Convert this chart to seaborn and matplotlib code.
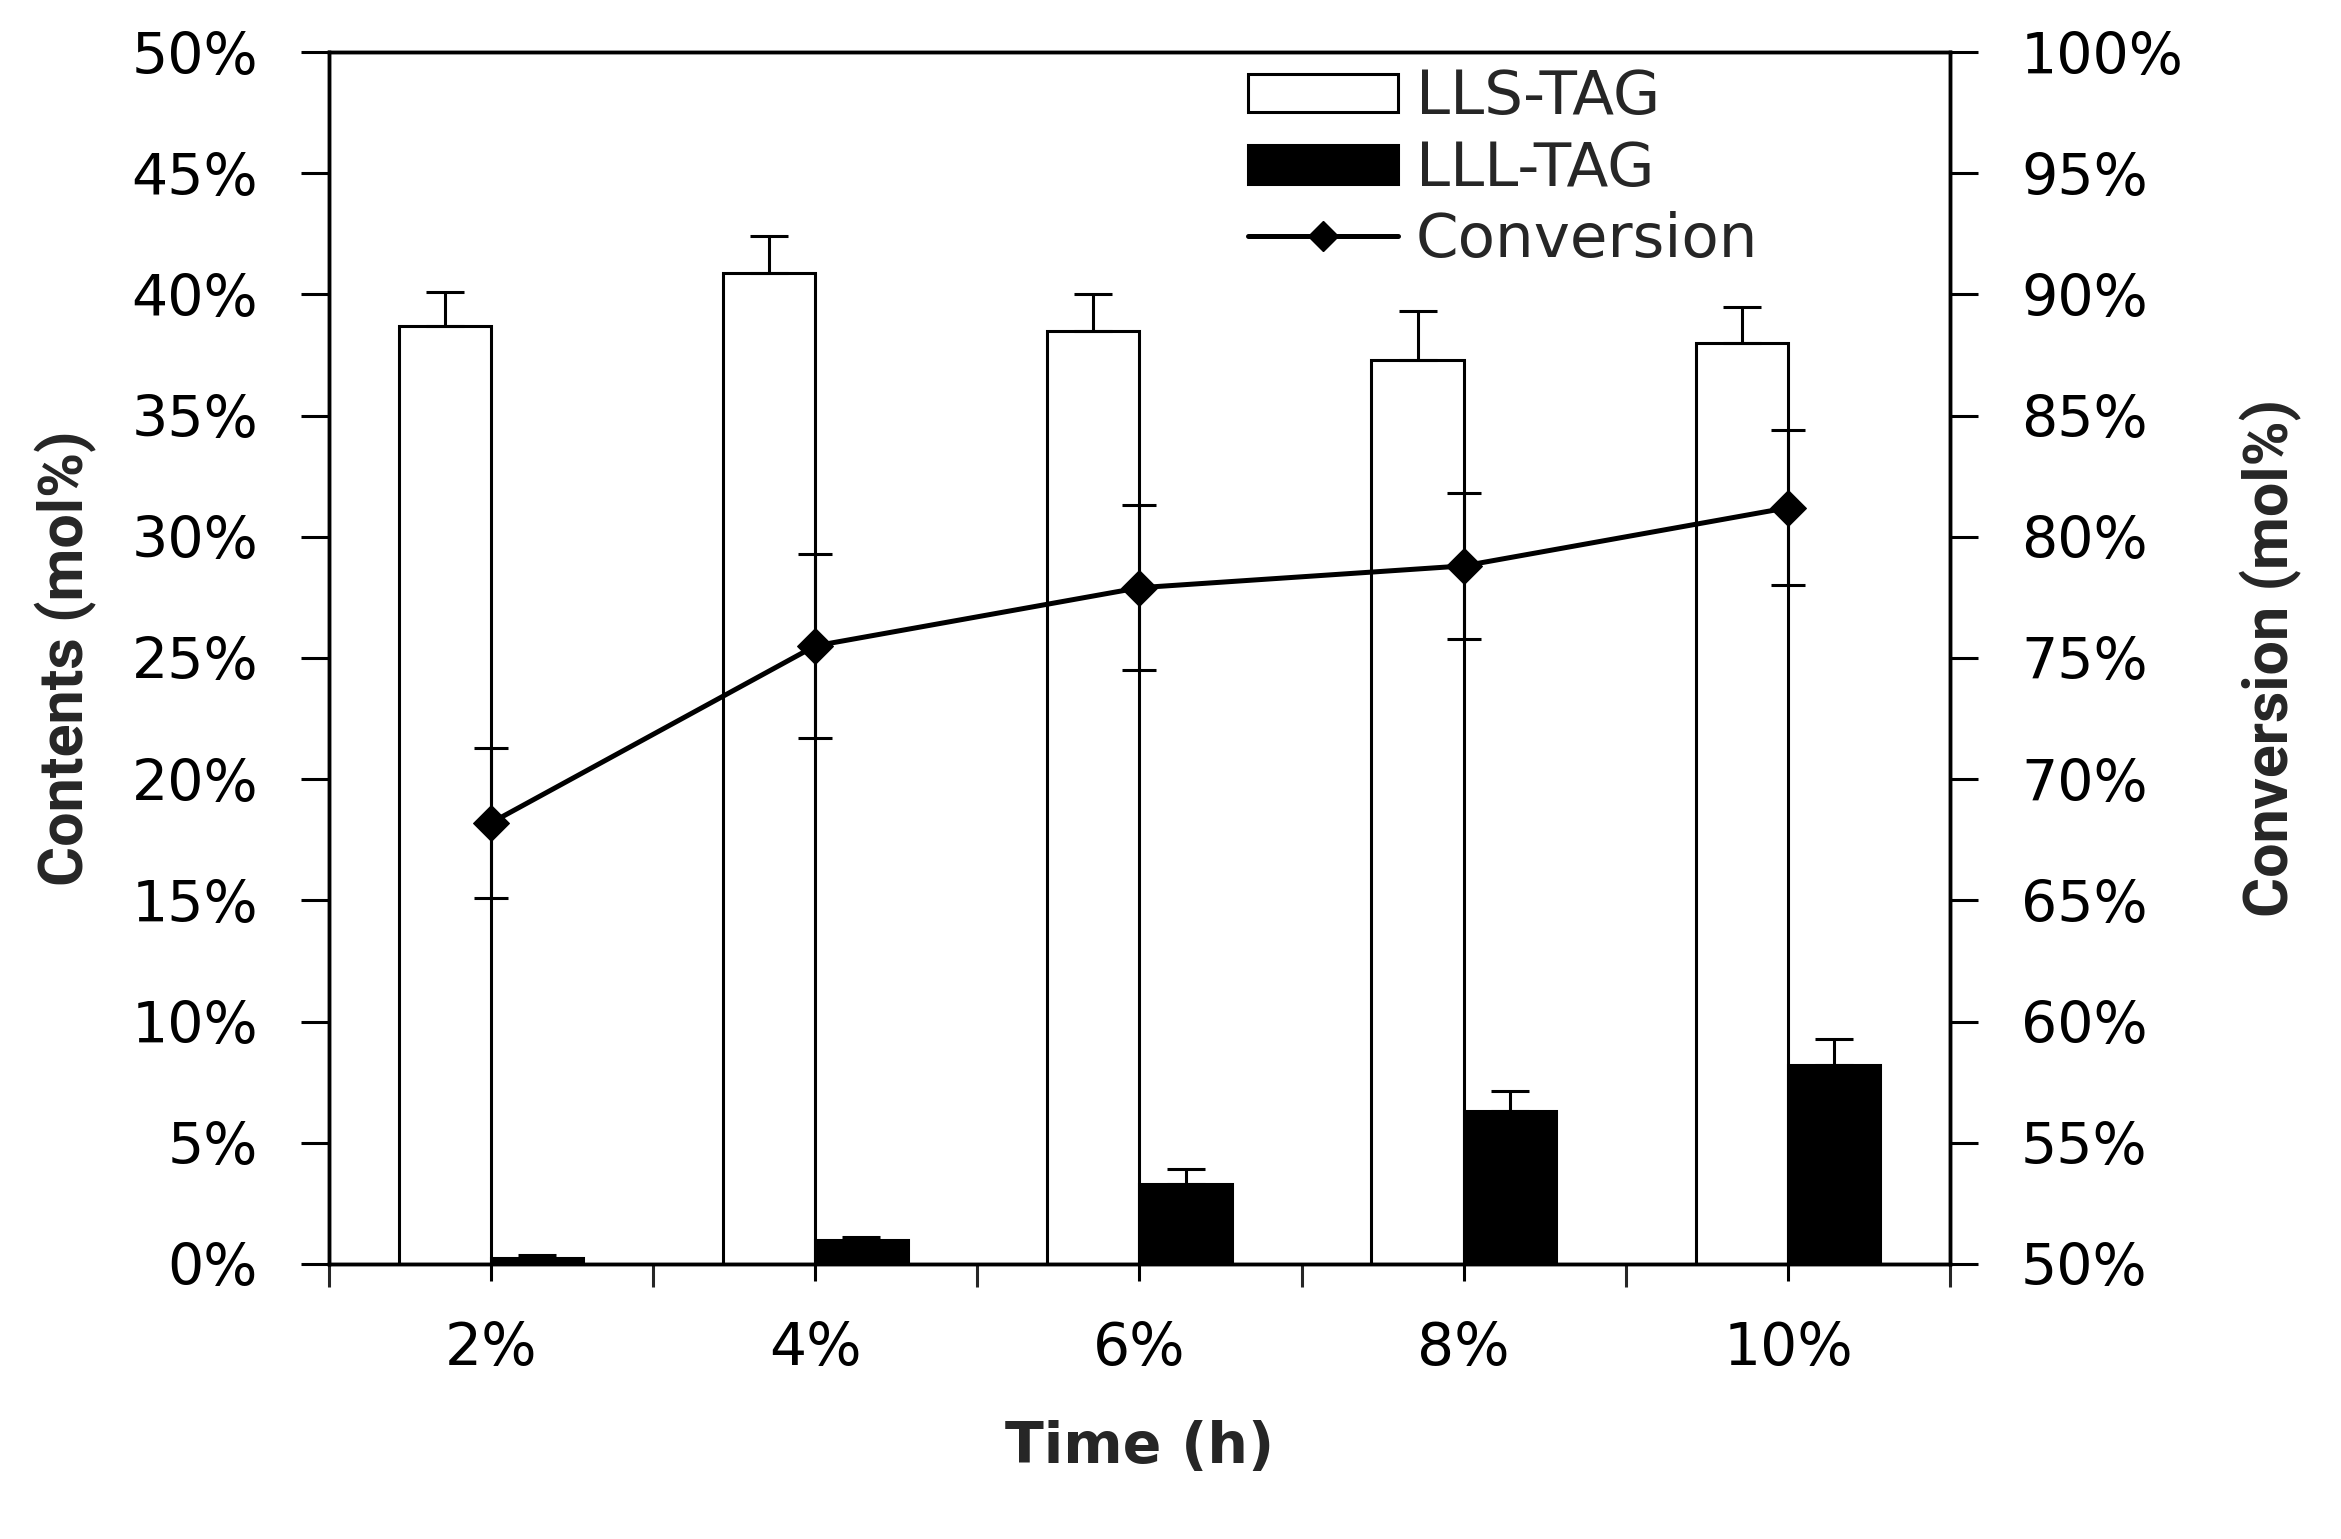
import numpy as np
import pandas as pd
import matplotlib
matplotlib.use("Agg")
import matplotlib.pyplot as plt
import seaborn as sns
from matplotlib.lines import Line2D
from matplotlib.patches import Patch
from matplotlib.ticker import PercentFormatter

# values (percent)
doses = ["2%", "4%", "6%", "8%", "10%"]
lls_tag = [38.7, 40.9, 38.5, 37.3, 38.0]
lls_err = [1.4, 1.5, 1.5, 2.0, 1.5]
lll_tag = [0.25, 1.0, 3.3, 6.3, 8.2]
lll_err = [0.12, 0.12, 0.6, 0.85, 1.1]
conversion = [68.2, 75.5, 77.9, 78.8, 81.2]
conv_err = [3.1, 3.8, 3.4, 3.0, 3.2]

sns.set_style("ticks")
plt.rcParams["font.family"] = ["DejaVu Sans"]
plt.rcParams["axes.linewidth"] = 2.5

df = pd.DataFrame({
    "dose": doses * 2,
    "content": lls_tag + lll_tag,
    "kind": ["LLS-TAG"] * len(doses) + ["LLL-TAG"] * len(doses),
})

fig = plt.figure(figsize=(23.41, 15.39), dpi=100)
ax = fig.add_axes([0.1405, 0.1787, 0.6925, 0.7875])

sns.barplot(data=df, x="dose", y="content", hue="kind",
            palette={"LLS-TAG": "white", "LLL-TAG": "black"},
            saturation=1, edgecolor="black", linewidth=2.2, width=0.57,
            errorbar=None, legend=False, ax=ax)

# upward-only error bars on top of each bar
for cont, errs in zip(ax.containers, [lls_err, lll_err]):
    xs = [b.get_x() + b.get_width() / 2 for b in cont]
    ys = [b.get_height() for b in cont]
    ax.errorbar(xs, ys, yerr=[np.zeros(len(errs)), errs], fmt="none",
                ecolor="black", elinewidth=2.2, capsize=14, capthick=2.2, zorder=3)

ax2 = ax.twinx()
sns.lineplot(x=doses, y=conversion, ax=ax2, color="black", linewidth=3.6,
             marker="D", markersize=18, markeredgecolor="black", sort=False)
ax2.errorbar(doses, conversion, yerr=conv_err, fmt="none", ecolor="black",
             elinewidth=2.2, capsize=12.5, capthick=2.2)

ax.set_xlim(-0.5, len(doses) - 0.5)
ax.set_ylim(0, 50)
ax2.set_ylim(50, 100)
ax.set_yticks(np.arange(0, 51, 5))
ax2.set_yticks(np.arange(50, 101, 5))
ax.yaxis.set_major_formatter(PercentFormatter(decimals=0))
ax2.yaxis.set_major_formatter(PercentFormatter(decimals=0))
ax.set_xticks(range(len(doses)))
ax.set_xticklabels(doses)
ax.set_xticks(np.arange(-0.5, len(doses), 1), minor=True)

ax.tick_params(axis="x", which="major", direction="out", length=12, width=2.2,
               pad=28, labelsize=42, colors="black")
ax.tick_params(axis="x", which="minor", direction="out", length=16.5, width=2.2)
ax.tick_params(axis="y", direction="out", length=20, width=2.2, pad=31,
               labelsize=41, colors="black")
ax2.tick_params(axis="y", direction="out", length=20, width=2.2, pad=31,
                labelsize=41, colors="black")
ax.tick_params(axis="y", which="minor", length=0)

for sp in ax.spines.values():
    sp.set_visible(True)
    sp.set_color("black")
    sp.set_linewidth(2.5)
for sp in ax2.spines.values():
    sp.set_color("black")
    sp.set_linewidth(2.5)

ax.set_xlabel("Time (h)", fontsize=41, fontweight="bold", labelpad=31)
ax.set_ylabel("Contents (mol%)", fontsize=44, fontweight="bold",
              family=["Roboto", "DejaVu Sans"])
ax2.set_ylabel("Conversion (mol%)", fontsize=44, fontweight="bold",
               family=["Roboto", "DejaVu Sans"])
ax.yaxis.set_label_coords(-0.143, 0.5)
ax2.yaxis.set_label_coords(1.179, 0.5)

handles = [
    Patch(facecolor="white", edgecolor="black", linewidth=2.2),
    Patch(facecolor="black", edgecolor="black", linewidth=2.2),
    Line2D([], [], color="black", linewidth=3.6, marker="D", markersize=15),
]
ax2.legend(handles, ["LLS-TAG", "LLL-TAG", "Conversion"], loc="upper left",
           bbox_to_anchor=(0.5331, 0.9555), bbox_transform=fig.transFigure,
           frameon=False, fontsize=44, borderpad=0, borderaxespad=0,
           handlelength=2.45, handleheight=0.6, handletextpad=0.3,
           labelspacing=0.2)

fig.savefig("out.png", dpi=100)
